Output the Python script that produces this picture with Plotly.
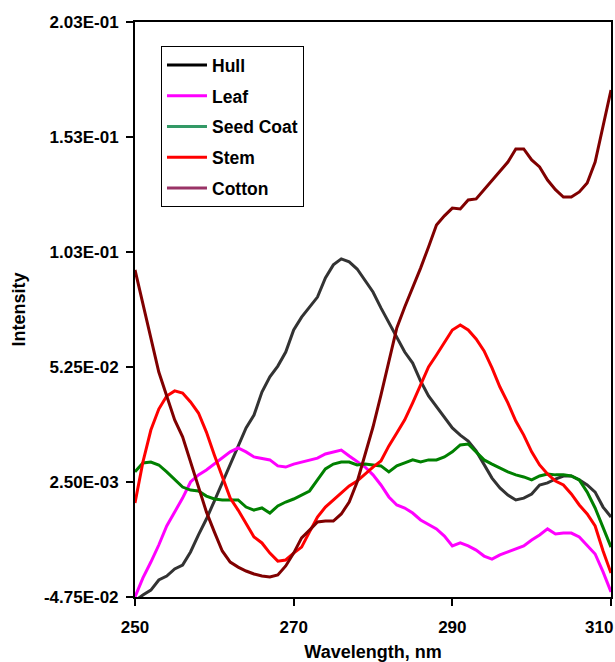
import plotly.graph_objects as go

wavelength = list(range(250, 311))

hull = [-0.0492, -0.0466, -0.0445, -0.0401, -0.0384, -0.0353, -0.0336, -0.0279, -0.0205, -0.0136,
        -0.0058, 0.0021, 0.0108, 0.0186, 0.0260, 0.0316, 0.0416, 0.0482, 0.0529, 0.0590,
        0.0686, 0.0742, 0.0786, 0.0829, 0.0912, 0.0969, 0.0995, 0.0982, 0.0951, 0.0903,
        0.0851, 0.0782, 0.0716, 0.0651, 0.0590, 0.0542, 0.0464, 0.0399, 0.0351, 0.0303,
        0.0260, 0.0229, 0.0203, 0.0160, 0.0099, 0.0042, -0.0001, -0.0032, -0.0053, -0.0045,
        -0.0027, 0.0012, 0.0021, 0.0038, 0.0051, 0.0051, 0.0034, 0.0012, -0.0019, -0.0084,
        -0.0127]

leaf = [-0.0475, -0.0392, -0.0323, -0.0249, -0.0166, -0.0105, -0.0045, 0.0025, 0.0056, 0.0077,
        0.0103, 0.0129, 0.0156, 0.0173, 0.0156, 0.0134, 0.0129, 0.0121, 0.0095, 0.0090,
        0.0103, 0.0112, 0.0121, 0.0129, 0.0147, 0.0156, 0.0164, 0.0138, 0.0112, 0.0090,
        0.0056, 0.0012, -0.0040, -0.0075, -0.0088, -0.0110, -0.0140, -0.0158, -0.0179, -0.0210,
        -0.0253, -0.0240, -0.0253, -0.0271, -0.0297, -0.0310, -0.0292, -0.0279, -0.0266, -0.0253,
        -0.0227, -0.0205, -0.0179, -0.0201, -0.0197, -0.0197, -0.0214, -0.0253, -0.0288, -0.0366,
        -0.0453]

seed_coat = [0.0069, 0.0108, 0.0112, 0.0099, 0.0069, 0.0034, 0.0003, -0.0010, -0.0014, -0.0036,
             -0.0049, -0.0053, -0.0053, -0.0053, -0.0084, -0.0097, -0.0088, -0.0110, -0.0079, -0.0062,
             -0.0049, -0.0032, -0.0014, 0.0034, 0.0082, 0.0103, 0.0112, 0.0112, 0.0099, 0.0103,
             0.0099, 0.0095, 0.0069, 0.0095, 0.0108, 0.0121, 0.0112, 0.0121, 0.0121, 0.0134,
             0.0156, 0.0186, 0.0190, 0.0156, 0.0121, 0.0103, 0.0086, 0.0069, 0.0056, 0.0047,
             0.0034, 0.0051, 0.0060, 0.0056, 0.0056, 0.0051, 0.0034, -0.0019, -0.0088, -0.0171,
             -0.0258]

stem = [-0.0066, 0.0112, 0.0251, 0.0342, 0.0399, 0.0421, 0.0412, 0.0373, 0.0325, 0.0242,
        0.0142, 0.0047, -0.0045, -0.0097, -0.0153, -0.0214, -0.0240, -0.0284, -0.0319, -0.0314,
        -0.0284, -0.0258, -0.0192, -0.0127, -0.0084, -0.0053, -0.0023, 0.0008, 0.0029, 0.0060,
        0.0090, 0.0116, 0.0182, 0.0238, 0.0295, 0.0369, 0.0447, 0.0525, 0.0577, 0.0634,
        0.0686, 0.0708, 0.0686, 0.0647, 0.0595, 0.0521, 0.0438, 0.0369, 0.0290, 0.0229,
        0.0156, 0.0099, 0.0060, 0.0029, 0.0012, -0.0027, -0.0075, -0.0114, -0.0166, -0.0275,
        -0.0371]

cotton = [0.0947, 0.0795, 0.0642, 0.0503, 0.0399, 0.0295, 0.0221, 0.0112, -0.0001, -0.0105,
          -0.0192, -0.0275, -0.0323, -0.0345, -0.0362, -0.0375, -0.0384, -0.0388, -0.0379, -0.0340,
          -0.0284, -0.0218, -0.0184, -0.0149, -0.0145, -0.0145, -0.0114, -0.0062, 0.0025, 0.0142,
          0.0264, 0.0403, 0.0547, 0.0695, 0.0786, 0.0869, 0.0955, 0.1047, 0.1142, 0.1182,
          0.1216, 0.1212, 0.1251, 0.1256, 0.1295, 0.1334, 0.1373, 0.1416, 0.1473, 0.1473,
          0.1425, 0.1395, 0.1338, 0.1296, 0.1264, 0.1264, 0.1286, 0.1325, 0.1416, 0.1569,
          0.1729]

series_names = ["Hull", "Leaf", "Seed Coat", "Stem", "Cotton"]
series_values = [hull, leaf, seed_coat, stem, cotton]
line_colors = ["#333333", "#FF00FF", "#008000", "#FF0000", "#800000"]
legend_colors = ["#000000", "#FF00FF", "#339966", "#FF0000", "#993366"]

y_tick_vals = [-0.0475, 0.0025, 0.0525, 0.1025, 0.1525, 0.2025]
y_tick_text = ["-4.75E-02", "2.50E-03", "5.25E-02", "1.03E-01", "1.53E-01", "2.03E-01"]
x_tick_vals = [250, 270, 290, 310]
# last label padded with no-break spaces so it sits inside the page edge like the original
x_tick_text = ["250", "270", "290", "310\u00a0\u00a0\u00a0\u00a0\u00a0"]

FONT = "Liberation Sans, Arial, sans-serif"

fig = go.Figure()
for name, vals, col in zip(series_names, series_values, line_colors):
    fig.add_trace(go.Scatter(x=wavelength, y=vals, mode="lines", name=name,
                             line=dict(color=col, width=3), showlegend=False))
for i, (name, col) in enumerate(zip(series_names, legend_colors)):
    fig.add_trace(go.Scatter(x=[None], y=[None], mode="lines", name=name,
                             legendgroup=f"g{i}",
                             line=dict(color=col, width=3), showlegend=True))

fig.update_layout(
    width=615, height=662,
    margin=dict(l=135, r=4, t=22, b=65),
    paper_bgcolor="white", plot_bgcolor="white",
    font=dict(family=FONT, size=17, color="black", weight="bold"),
    showlegend=True,
    legend=dict(x=0.0546, y=0.958, xanchor="left", yanchor="top",
                bgcolor="white", bordercolor="black", borderwidth=1,
                font=dict(family=FONT, size=17.5, color="black", weight="bold"),
                traceorder="grouped", tracegroupgap=5, itemwidth=40),
    xaxis=dict(range=[250, 310], tickvals=x_tick_vals, ticktext=x_tick_text,
               showgrid=False, zeroline=False,
               showline=True, linecolor="black", linewidth=2, mirror=True,
               ticks="outside", ticklen=7, tickwidth=2, tickcolor="black",
               automargin=False, ticklabelstandoff=7, ticklabeloverflow="allow",
               tickfont=dict(family=FONT, size=17, weight="bold"),
               title=dict(text="Wavelength, nm", standoff=11,
                          font=dict(family=FONT, size=18, weight="bold"))),
    yaxis=dict(range=[-0.0475, 0.2025], tickvals=y_tick_vals, ticktext=y_tick_text,
               showgrid=False, zeroline=False,
               showline=True, linecolor="black", linewidth=2, mirror=True,
               ticks="outside", ticklen=7, tickwidth=2, tickcolor="black",
               automargin=False, ticklabelstandoff=4, ticklabeloverflow="allow",
               tickfont=dict(family=FONT, size=17, weight="bold"),
               title=dict(text="Intensity", standoff=14,
                          font=dict(family=FONT, size=18, weight="bold"))),
)

fig.write_html("out.html", config={"displayModeBar": False},
               post_script="document.body.style.margin='0';document.body.style.overflow='hidden';")
